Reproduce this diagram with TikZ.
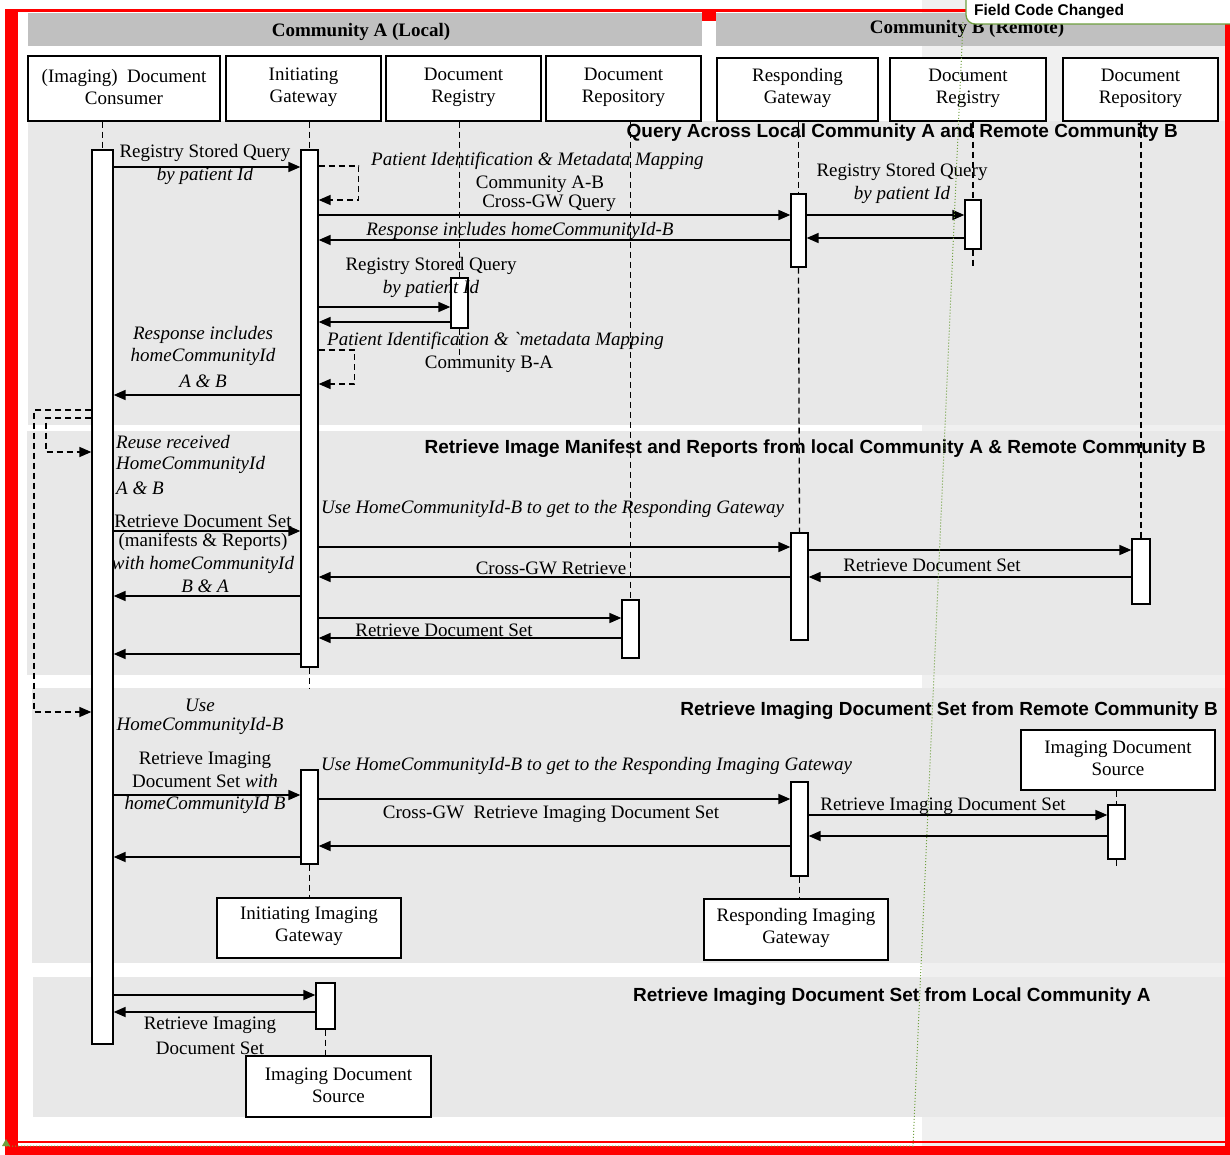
\documentclass[tikz,border=0pt]{standalone}
\usepackage{fontspec}
\setmainfont{Liberation Serif}
\setsansfont{Liberation Sans}
\usepackage{xcolor}
\definecolor{sectgray}{HTML}{E8E8E8}
\definecolor{headgray}{HTML}{C0C0C0}
\definecolor{panegray}{HTML}{F0F0F0}
\definecolor{markgreen}{HTML}{70A040}
\definecolor{framered}{rgb}{1.0,0.0,0.0}
\usepackage{tikz}
\usetikzlibrary{positioning,fit}
\usetikzlibrary{arrows.meta}
\tikzset{>={Triangle[length=12pt,width=10pt]}}

\begin{document}
\begin{tikzpicture}[x=1pt,y=-1pt,
  txt/.style={inner sep=0pt,align=center,yshift=-2pt,font=\fontsize{19}{22}\selectfont},
  itxt/.style={inner sep=0pt,align=center,yshift=-2pt,font=\fontsize{19}{22}\selectfont\itshape},
  sect/.style={inner sep=0pt,yshift=-1pt,font=\sffamily\bfseries\fontsize{19}{22}\selectfont},
  actor/.style={draw,fill=white,line width=1.3pt,inner sep=0pt},
  boxtxt/.style={inner sep=0pt,align=center,yshift=1.5pt,font=\fontsize{19}{22}\selectfont},
  actbar/.style={draw,fill=white,line width=1.3pt,inner sep=0pt},
  lifeline/.style={line width=1.3pt,dash pattern=on 6pt off 4pt},
  msg/.style={->,line width=1.7pt},
  selfmsg/.style={->,line width=1.5pt,dash pattern=on 6pt off 4pt}]

\useasboundingbox (0,0) rectangle (1230,1155);
\fill[white] (0,0) rectangle (1230,1155);
\fill[panegray] (922,0) rectangle (1230,1155);

\fill[framered] (5,9) rectangle (18,1152);
\fill[framered] (5,9) rectangle (966,12);
\fill[framered] (702,9) rectangle (716,21);
\fill[framered] (1225,22) rectangle (1230,1150);
\fill[framered] (5,1146) rectangle (1230,1155);
\draw[framered,line width=1.5pt] (18,1142) -- (1225,1142);

\fill[headgray] (28,13) rectangle (702,46);
\fill[headgray] (716,13) rectangle (1225,46);
\node[txt,font=\bfseries\fontsize{19}{22}\selectfont] (hdra) at (361,30) {Community A (Local)};
\node[txt,font=\bfseries\fontsize{19}{22}\selectfont] (hdrb) at (967,27) {Community B (Remote)};

\fill[sectgray] (28,121) rectangle (1225,425);
\fill[sectgray] (27,431) rectangle (1225,675);
\fill[sectgray] (32,688) rectangle (1225,963);
\fill[sectgray] (33,977) rectangle (1225,1117);

\node[sect,anchor=east] (tquery) at (1178,132) {Query Across Local Community A and Remote Community B};
\node[sect,anchor=east] (tmanif) at (1206,448) {Retrieve Image Manifest and Reports from local Community A \& Remote Community B};
\node[sect,anchor=east] (tremote) at (1218,710) {Retrieve Imaging Document Set from Remote Community B};
\node[sect,anchor=west] (tlocal) at (633,996) {Retrieve Imaging Document Set from Local Community A};

\node[actor,minimum width=192pt,minimum height=65pt,label={[boxtxt]center:{(Imaging)\ \ Document\\Consumer}}] (cons) at (124,88.5) {};
\node[actor,minimum width=155pt,minimum height=65pt,label={[boxtxt]center:{Initiating\\Gateway}}] (ig) at (303.5,88.5) {};
\node[actor,minimum width=155pt,minimum height=65pt,label={[boxtxt]center:{Document\\Registry}}] (rega) at (463.5,88.5) {};
\node[actor,minimum width=155pt,minimum height=65pt,label={[boxtxt]center:{Document\\Repository}}] (repa) at (623.5,88.5) {};
\node[actor,minimum width=161pt,minimum height=63pt,label={[boxtxt]center:{Responding\\Gateway}}] (rg) at (797.5,89.5) {};
\node[actor,minimum width=156pt,minimum height=63pt,label={[boxtxt]center:{Document\\Registry}}] (regb) at (968,89.5) {};
\node[actor,minimum width=155pt,minimum height=63pt,label={[boxtxt]center:{Document\\Repository}}] (repb) at (1140.5,89.5) {};
\node[actor,minimum width=184pt,minimum height=60pt,label={[boxtxt]center:{Initiating Imaging\\Gateway}}] (iig) at (309,928) {};
\node[actor,minimum width=184pt,minimum height=61pt,label={[boxtxt]center:{Responding Imaging\\Gateway}}] (rig) at (796,929.5) {};
\node[actor,minimum width=194pt,minimum height=60pt,label={[boxtxt]center:{Imaging Document\\Source}}] (idsb) at (1118,760) {};
\node[actor,minimum width=185pt,minimum height=61pt,label={[boxtxt]center:{Imaging Document\\Source}}] (idsa) at (338.5,1086.5) {};

\node[actbar,fit={(92,150) (113,1044)}] (consbar) {};
\node[actbar,fit={(301,150) (318,667)}] (igbar) {};
\node[actbar,fit={(451,278) (468,328)}] (regabar) {};
\node[actbar,fit={(622,600) (639,658)}] (repabar) {};
\node[actbar,fit={(791,194) (806,267)}] (rgbar1) {};
\node[actbar,fit={(791,533) (808,640)}] (rgbar2) {};
\node[actbar,fit={(965,200) (981,249)}] (regbbar) {};
\node[actbar,fit={(1132,539) (1150,604)}] (repbbar) {};
\node[actbar,fit={(301,770) (318,864)}] (iigbar) {};
\node[actbar,fit={(791,782) (808,876)}] (rigbar) {};
\node[actbar,fit={(1108,805) (1125,859)}] (idsbbar) {};
\node[actbar,fit={(316,983) (335,1029)}] (idsabar) {};

\draw[lifeline] (cons.south -| consbar.north) -- (consbar.north);
\draw[lifeline] (ig.south -| igbar.north) -- (igbar.north);
\draw[lifeline] (igbar.south) -- ++(0,21);
\draw[lifeline] (rega.south -| regabar.north) -- (regabar.north);
\draw[lifeline] (regabar.south) -- ++(0,37);
\draw[lifeline] (repa.south -| repabar.north) -- (repabar.north);
\draw[lifeline] (rg.south -| rgbar1.north) -- (rgbar1.north);
\draw[lifeline] (rgbar1.south) -- (rgbar2.north);
\draw[lifeline] (regb.south -| regbbar.north) -- (regbbar.north);
\draw[lifeline] (regbbar.south) -- ++(0,19);
\draw[lifeline] (repb.south -| repbbar.north) -- (repbbar.north);
\draw[lifeline] (iigbar.south) -- (iigbar.south |- iig.north);
\draw[lifeline] (rigbar.south) -- (rigbar.south |- rig.north);
\draw[lifeline] (idsb.south -| idsbbar.north) -- (idsbbar.north);
\draw[lifeline] (idsbbar.south) -- ++(0,7);
\draw[lifeline] (idsabar.south) -- (idsabar.south |- idsa.north);

\draw[msg] (consbar.east |- 0,167) -- (igbar.west |- 0,167);
\draw[selfmsg] (igbar.east |- 0,166) -- ++(40,0) |- (igbar.east |- 0,200);
\draw[msg] (igbar.east |- 0,215) -- (rgbar1.west |- 0,215);
\draw[msg] (rgbar1.east |- 0,215) -- (regbbar.west |- 0,215);
\draw[msg] (regbbar.west |- 0,238) -- (rgbar1.east |- 0,238);
\draw[msg] (rgbar1.west |- 0,240) -- (igbar.east |- 0,240);
\draw[msg] (igbar.east |- 0,307) -- (regabar.west |- 0,307);
\draw[msg] (regabar.west |- 0,322) -- (igbar.east |- 0,322);
\draw[selfmsg] (igbar.east |- 0,350) -- ++(36,0) |- (igbar.east |- 0,384);
\draw[msg] (igbar.west |- 0,395) -- (consbar.east |- 0,395);
\draw[selfmsg] (consbar.west |- 0,410) -- (34,410) -- (34,712) -- (consbar.west |- 0,712);
\draw[selfmsg] (consbar.west |- 0,418) -- (46,418) -- (46,452) -- (consbar.west |- 0,452);

\draw[msg] (consbar.east |- 0,531) -- (igbar.west |- 0,531);
\draw[msg] (igbar.west |- 0,596) -- (consbar.east |- 0,596);
\draw[msg] (igbar.east |- 0,547) -- (rgbar2.west |- 0,547);
\draw[msg] (rgbar2.east |- 0,550) -- (repbbar.west |- 0,550);
\draw[msg] (repbbar.west |- 0,577) -- (rgbar2.east |- 0,577);
\draw[msg] (rgbar2.west |- 0,577) -- (igbar.east |- 0,577);
\draw[msg] (igbar.east |- 0,618) -- (repabar.west |- 0,618);
\draw[msg] (repabar.west |- 0,638) -- (igbar.east |- 0,638);
\draw[msg] (igbar.west |- 0,654) -- (consbar.east |- 0,654);

\draw[msg] (consbar.east |- 0,795) -- (iigbar.west |- 0,795);
\draw[msg] (iigbar.west |- 0,857) -- (consbar.east |- 0,857);
\draw[msg] (iigbar.east |- 0,799) -- (rigbar.west |- 0,799);
\draw[msg] (rigbar.west |- 0,846) -- (iigbar.east |- 0,846);
\draw[msg] (rigbar.east |- 0,815) -- (idsbbar.west |- 0,815);
\draw[msg] (idsbbar.west |- 0,836) -- (rigbar.east |- 0,836);

\draw[msg] (consbar.east |- 0,995) -- (idsabar.west |- 0,995);
\draw[msg] (idsabar.west |- 0,1012) -- (consbar.east |- 0,1012);

\node[txt] (l1) at (205,151) {Registry Stored Query};
\node[itxt] (l2) at (205,174) {by patient Id};
\node[itxt,anchor=west] (l3) at (371,159) {Patient Identification \& Metadata Mapping};
\node[txt] (l4) at (540,182) {Community A-B};
\node[txt] (l5) at (549,201) {Cross-GW Query};
\node[itxt] (l6) at (520,229) {Response includes homeCommunityId-B};
\node[txt] (l7) at (902,170) {Registry Stored Query};
\node[itxt] (l8) at (902,193) {by patient Id};
\node[txt] (l9) at (431,264) {Registry Stored Query};
\node[itxt] (l10) at (431,287) {by patient Id};
\node[itxt,anchor=west] (l11) at (327,339) {Patient Identification \& \textasciigrave metadata Mapping};
\node[txt] (l12) at (489,362) {Community B-A};
\node[itxt] (l13) at (203,333) {Response includes};
\node[itxt] (l14) at (203,355) {homeCommunityId};
\node[itxt] (l15) at (203,379) {A \& B};

\node[itxt,anchor=west] (l16) at (116,440) {Reuse received};
\node[itxt,anchor=west] (l17) at (116,463) {HomeCommunityId};
\node[itxt,anchor=west] (l18) at (116,486) {A \& B};
\node[txt] (l19) at (203,519) {Retrieve Document Set};
\node[txt] (l20) at (203,540) {(manifests \& Reports)};
\node[itxt] (l21) at (203,563) {with homeCommunityId};
\node[itxt] (l22) at (205,584) {B \& A};
\node[itxt,anchor=west] (l23) at (321,507) {Use HomeCommunityId-B to get to the Responding Gateway};
\node[txt] (l24) at (932,563) {Retrieve Document Set};
\node[txt] (l25) at (551,566) {Cross-GW Retrieve};
\node[txt] (l26) at (444,628) {Retrieve Document Set};

\node[itxt] (l27) at (200,703) {Use};
\node[itxt] (l28) at (200,724) {HomeCommunityId-B};
\node[txt] (l29) at (205,758) {Retrieve Imaging};
\node[txt] (l30) at (205,779) {Document Set \textit{with}};
\node[itxt] (l31) at (205,803) {homeCommunityId B};
\node[itxt,anchor=west] (l32) at (321,764) {Use HomeCommunityId-B to get to the Responding Imaging Gateway};
\node[txt] (l33) at (551,812) {Cross-GW\ \ Retrieve Imaging Document Set};
\node[txt] (l34) at (943,804) {Retrieve Imaging Document Set};

\node[txt] (l35) at (210,1023) {Retrieve Imaging};
\node[txt] (l36) at (210,1046) {Document Set};

\draw[markgreen,line width=1pt,dotted] (963,22) -- (913,1146) -- (5,1146);
\fill[markgreen] (2,1146) -- (10,1146) -- (6,1139) -- cycle;
\draw[markgreen,line width=1.3pt,fill=white,rounded corners=9pt] (966,-15) rectangle (1260,24);
\node[inner sep=0pt,anchor=west,font=\sffamily\bfseries\fontsize{15.5}{18}\selectfont] (fcc) at (974,12) {Field Code Changed};

\end{tikzpicture}
\end{document}
